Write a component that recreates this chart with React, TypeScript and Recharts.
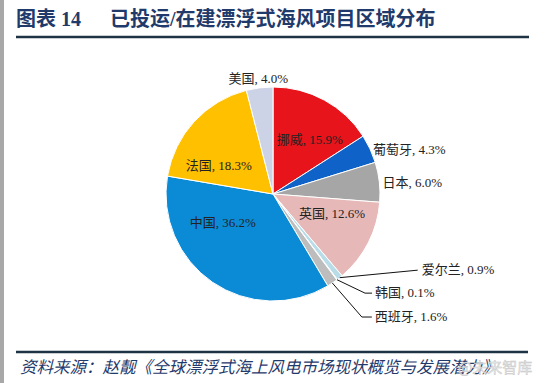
import React from 'react';
import { PieChart, Pie, Cell } from 'recharts';

const regions = ['挪威', '葡萄牙', '日本', '英国', '爱尔兰', '韩国', '西班牙', '中国', '法国', '美国'];
const shares = [15.9, 4.3, 6.0, 12.6, 0.9, 0.1, 1.6, 36.2, 18.3, 4.0];
const sliceColors = ['#E8141C', '#0E62C8', '#A6A6A6', '#E6B9B8', '#B9DDE8', '#D6D6D6', '#BDBDBD', '#0B8BD6', '#FFC000', '#CDD3E6'];

const titleLabel = '图表 14';
const titleText = '已投运/在建漂浮式海风项目区域分布';
const sourceText = '资料来源：赵靓《全球漂浮式海上风电市场现状概览与发展潜力》';

const data = regions.map((name, i) => ({ name, value: shares[i] }));

type LabelCfg = {
  kind: 'inside' | 'outside' | 'leader';
  r: number;
  dx: number;
  dy: number;
  anchor: 'start' | 'middle' | 'end';
  ex?: number;
  ey?: number;
  h?: number;
};

const labelCfg: LabelCfg[] = [
  { kind: 'inside', r: 0.6, dx: 6, dy: 2, anchor: 'middle' },
  { kind: 'outside', r: 1.03, dx: 0, dy: 2, anchor: 'start' },
  { kind: 'outside', r: 1.03, dx: 0, dy: 1, anchor: 'start' },
  { kind: 'inside', r: 0.6, dx: 2, dy: -10, anchor: 'middle' },
  { kind: 'leader', r: 1, dx: 4, dy: -1, anchor: 'start', ex: 78, ey: -7.5, h: 0 },
  { kind: 'leader', r: 1, dx: 3, dy: -1, anchor: 'start', ex: 28, ey: 13.4, h: 7 },
  { kind: 'leader', r: 1, dx: 3, dy: -1, anchor: 'start', ex: 29.5, ey: 34, h: 10 },
  { kind: 'inside', r: 0.6, dx: -14, dy: -24, anchor: 'middle' },
  { kind: 'inside', r: 0.6, dx: -7, dy: 15, anchor: 'middle' },
  { kind: 'outside', r: 1.09, dx: 0, dy: 0, anchor: 'middle' },
];

const RAD = Math.PI / 180;
const labelFont = '"Liberation Serif", "Noto Sans CJK SC", serif';

const renderLabel = (props: any) => {
  const { cx, cy, midAngle, outerRadius, index, name, value } = props;
  const cfg = labelCfg[index];
  const cos = Math.cos(-midAngle * RAD);
  const sin = Math.sin(-midAngle * RAD);
  const text = `${name}, ${Number(value).toFixed(1)}%`;
  if (cfg.kind === 'leader') {
    const x0 = cx + outerRadius * cos;
    const y0 = cy + outerRadius * sin;
    const x1 = x0 + (cfg.ex || 0);
    const y1 = y0 + (cfg.ey || 0);
    const x2 = x1 + (cfg.h || 0);
    return (
      <g key={`l-${index}`}>
        <polyline points={`${x0},${y0} ${x1},${y1} ${x2},${y1}`} fill="none" stroke="#111" strokeWidth={1} />
        <text x={x2 + cfg.dx} y={y1 + cfg.dy} textAnchor="start" dominantBaseline="central" fontSize={13} fill="#222" fontFamily={labelFont}>
          {text}
        </text>
      </g>
    );
  }
  const x = cx + outerRadius * cfg.r * cos + cfg.dx;
  const y = cy + outerRadius * cfg.r * sin + cfg.dy;
  return (
    <text key={`l-${index}`} x={x} y={y} textAnchor={cfg.anchor} dominantBaseline="central" fontSize={13} fill="#222" fontFamily={labelFont}>
      {text}
    </text>
  );
};

export default function App() {
  return (
    <div style={{ position: 'absolute', left: 0, top: 0, width: 549, height: 383, background: '#fff', overflow: 'hidden' }}>
      <div style={{ position: 'absolute', left: 0, top: 0 }}>
        <PieChart width={549} height={383} margin={{ top: 0, right: 0, bottom: 0, left: 0 }}>
          <Pie
            data={data}
            dataKey="value"
            nameKey="name"
            cx={273}
            cy={194}
            outerRadius={107}
            startAngle={90}
            endAngle={-270}
            stroke="#fff"
            strokeWidth={1}
            labelLine={false}
            label={renderLabel}
            isAnimationActive={false}
          >
            {data.map((d, i) => (
              <Cell key={d.name} fill={sliceColors[i]} />
            ))}
          </Pie>
        </PieChart>
      </div>
      <svg width={549} height={383} style={{ position: 'absolute', left: 0, top: 0, pointerEvents: 'none' }}>
        <rect x={0} y={0} width={4} height={383} fill="#a8a8a8" />
        <text x={16} y={19} dominantBaseline="central" fontSize={20} fontWeight="bold" fill="#1F3A6B" fontFamily='"Liberation Serif", "Noto Sans CJK SC", serif'>
          {titleLabel}
        </text>
        <text x={110} y={19} dominantBaseline="central" fontSize={20} fontWeight="bold" fill="#1F3A6B" fontFamily='"Liberation Serif", "Noto Sans CJK SC", serif'>
          {titleText}
        </text>
        <line x1={16} y1={37} x2={529} y2={37} stroke="#1E3444" strokeWidth={2.5} />
        <line x1={16} y1={352} x2={528} y2={352} stroke="#1E3444" strokeWidth={2.5} />
        <text x={20} y={367} dominantBaseline="central" fontSize={16.5} fontStyle="italic" fill="#1F3A6B" fontFamily='"Liberation Serif", "Noto Sans CJK SC", serif'>
          {sourceText}
        </text>
        <text x={458} y={366} dominantBaseline="central" fontSize={15} fill="#e4e4e4" fillOpacity={0.85} stroke="#c2c2c2" strokeWidth={0.4} fontFamily='"Noto Sans CJK SC", sans-serif'>
          @未来智库
        </text>
      </svg>
    </div>
  );
}
